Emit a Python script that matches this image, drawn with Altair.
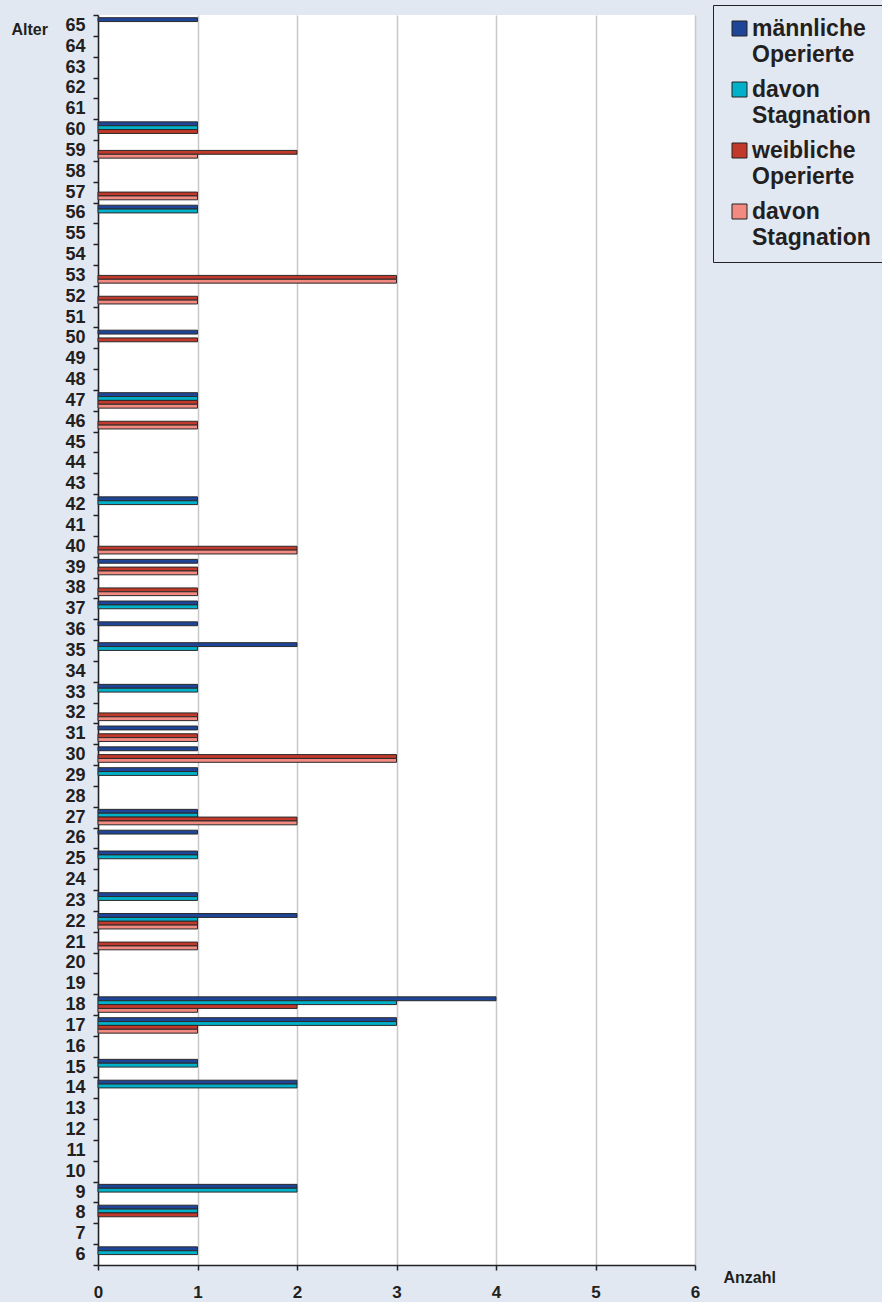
import altair as alt
import pandas as pd

# Ages from top (65) to bottom (6)
ages = list(range(65, 5, -1))

# Counts per age, same order as `ages`
maennlich = [1,0,0,0,0, 1,0,0,0,1, 0,0,0,0,0, 1,0,0,1,0,
             0,0,0,1,0, 0,1,0,1,1, 2,0,1,0,1, 1,1,0,1,1,
             1,0,1,2,0, 0,0,4,3,0, 1,2,0,0,0, 0,2,1,0,1]
maennlich_stag = [0,0,0,0,0, 1,0,0,0,1, 0,0,0,0,0, 0,0,0,1,0,
                  0,0,0,1,0, 0,0,0,1,0, 1,0,1,0,0, 0,1,0,1,0,
                  1,0,1,1,0, 0,0,3,3,0, 1,2,0,0,0, 0,2,1,0,1]
weiblich = [0,0,0,0,0, 1,2,0,1,0, 0,0,3,1,0, 1,0,0,1,1,
            0,0,0,0,0, 2,1,1,0,0, 0,0,0,1,1, 3,0,0,2,0,
            0,0,0,1,1, 0,0,2,1,0, 0,0,0,0,0, 0,0,1,0,0]
weiblich_stag = [0,0,0,0,0, 0,1,0,1,0, 0,0,3,1,0, 0,0,0,1,1,
                 0,0,0,0,0, 2,1,1,0,0, 0,0,0,1,1, 3,0,0,2,0,
                 0,0,0,1,1, 0,0,1,1,0, 0,0,0,0,0, 0,0,0,0,0]

series_keys = ["m|männliche Operierte", "m|davon Stagnation",
               "w|weibliche Operierte", "w|davon Stagnation"]
series_values = [maennlich, maennlich_stag, weiblich, weiblich_stag]
colors = ["#1F4598", "#00B1C9", "#C0392B", "#F28A82"]

rows = []
for key, vals in zip(series_keys, series_values):
    for age, v in zip(ages, vals):
        if v > 0:
            rows.append({"Alter": age, "Serie": key, "Anzahl": v})
df = pd.DataFrame(rows)

FONT = "Liberation Sans"
TXT = "#231F20"
BG = "#E1E8F2"

bars = alt.Chart(df).mark_bar(stroke="#2A2A2A", strokeWidth=1).encode(
    x=alt.X("Anzahl:Q",
            scale=alt.Scale(domain=[0, 6], nice=False),
            axis=alt.Axis(values=[0, 1, 2, 3, 4, 5, 6], format="d",
                          title="Anzahl", titleX=625, titleY=17,
                          titleAlign="left", titleBaseline="alphabetic",
                          labelFontSize=17, labelPadding=14, labelFlush=False,
                          grid=True, gridColor="#C8C8C8", gridWidth=1.5)),
    y=alt.Y("Alter:O",
            scale=alt.Scale(domain=ages, paddingInner=0, paddingOuter=0),
            axis=alt.Axis(title="Alter", titleAngle=0, titleX=-87, titleY=19,
                          titleAlign="left", titleBaseline="alphabetic",
                          tickBand="extent", labelFontSize=18, labelPadding=8,
                          grid=False)),
    yOffset=alt.YOffset("Serie:N",
                        scale=alt.Scale(domain=series_keys, paddingInner=0, paddingOuter=0.7)),
    color=alt.Color("Serie:N",
                    scale=alt.Scale(domain=series_keys, range=colors),
                    legend=alt.Legend(title=None, orient="none", legendX=615, legendY=-10,
                                      labelExpr="split(slice(datum.label, 2), ' ')",
                                      symbolType="square", symbolSize=225,
                                      symbolStrokeColor="#222222", symbolStrokeWidth=1,
                                      symbolOpacity=1, symbolOffset=3,
                                      labelFontSize=23, labelOffset=1, labelLimit=400,
                                      rowPadding=11, padding=12,
                                      strokeColor="#222222")),
)

chart = bars.properties(
    width=597, height=1250,
    padding={"left": 98, "top": 15, "right": 187, "bottom": 37},
    autosize=alt.AutoSizeParams(type="none"),
    background=BG,
).configure(
    font=FONT,
    style={"guide-label": {"lineHeight": 26}},
).configure_axis(
    domainColor="#222222", domainWidth=1.5,
    tickColor="#222222", tickWidth=1.5, tickSize=5,
    labelFont=FONT, labelFontWeight="bold", labelColor=TXT,
    titleFont=FONT, titleFontWeight="bold", titleColor=TXT, titleFontSize=16,
).configure_legend(
    labelFont=FONT, labelFontWeight="bold", labelColor=TXT,
).configure_view(
    fill="white", stroke=None,
)

chart.save("out.html", embed_options={"renderer": "svg", "actions": False})
